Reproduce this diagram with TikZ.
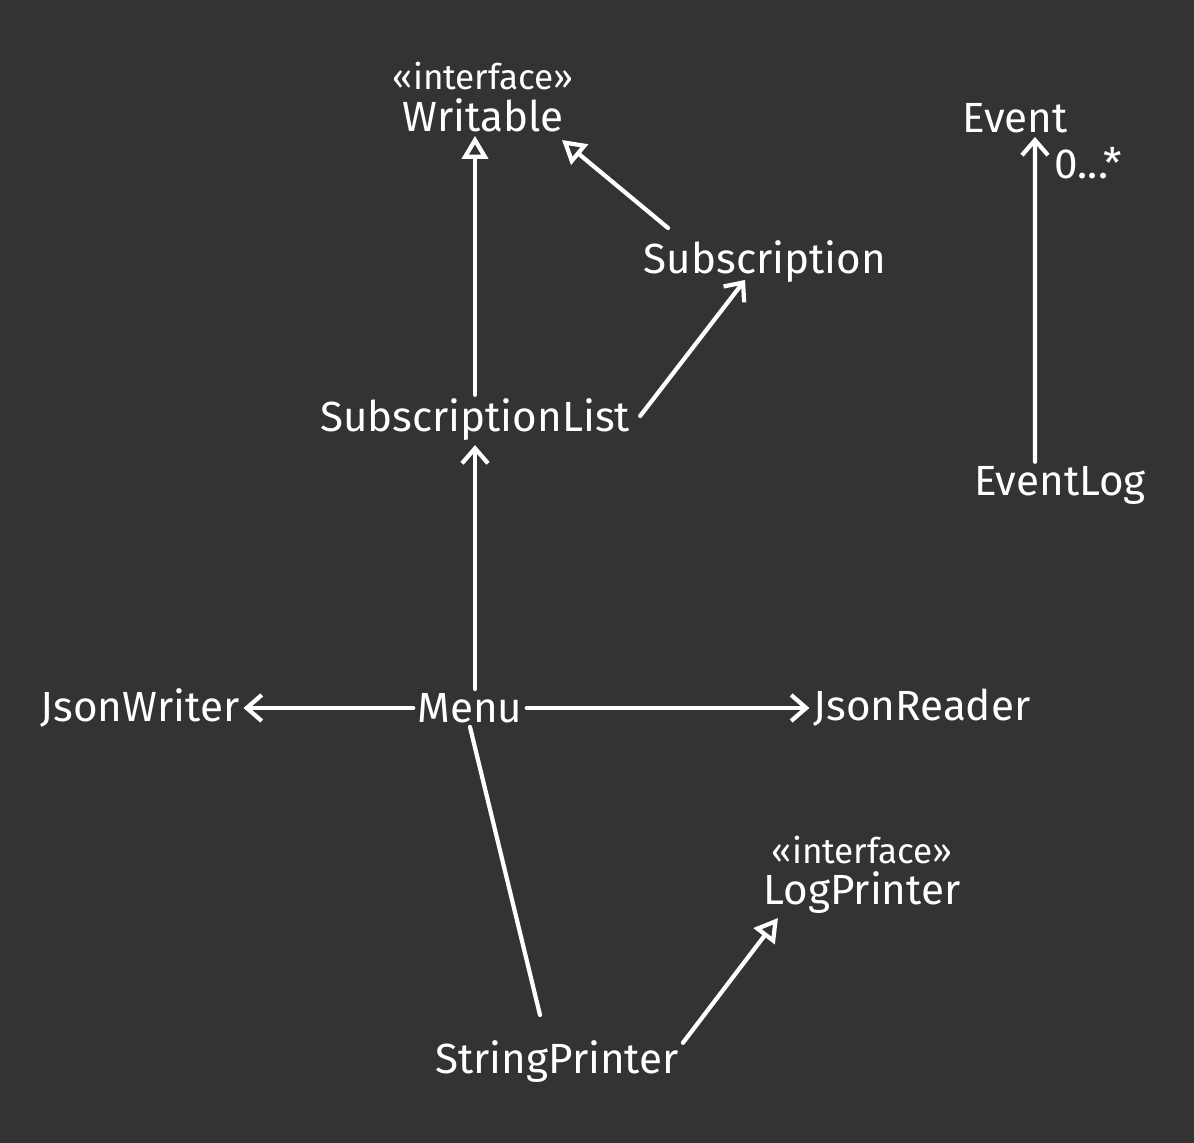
\documentclass[tikz,border=0pt]{standalone}
\usepackage{fontspec}
\setmainfont{Fira Sans}
\usepackage{tikz}
\usetikzlibrary{arrows.meta}
\usetikzlibrary{positioning,calc}
\definecolor{bgdark}{HTML}{333333}

\begin{document}
\begin{tikzpicture}[scale=0.2]
\tikzstyle{every node}+=[inner sep=1pt, text=white, font=\fontsize{12}{14}\selectfont]
\tikzstyle{stereo}=[font=\fontsize{10}{12}\selectfont]
\tikzstyle{link}=[white, line width=1.2pt, line cap=round]
\tikzstyle{assoc}=[link, -{Straight Barb[length=1.5mm,width=2.6mm,line width=1.2pt]}]
\tikzstyle{realize}=[link, -{Triangle[open,length=2.3mm,width=2.6mm,line width=1.2pt]}]
\fill [bgdark] (0,0) rectangle (59.7,-57.15);
\useasboundingbox (0,0) rectangle (59.7,-57.15);
% classes
\node (writable) at (24.15,-5.75) {Writable};
\node [stereo, above=0pt of writable] (writablest) {«interface»};
\node (subscription) at (38.25,-13.1) {Subscription};
\node (sublist) at (23.75,-21) {SubscriptionList};
\node (event) at (50.75,-5.9) {Event};
\node (eventlog) at (53,-24.25) {EventLog};
\node (jsonwriter) at (7,-35.4) {JsonWriter};
\node (menu) at (23.5,-35.4) {Menu};
\node (jsonreader) at (46.1,-35.4) {JsonReader};
\node (logprinter) at (43.1,-44.65) {LogPrinter};
\node [stereo, above=0pt of logprinter] (logprinterst) {«interface»};
\node (stringprinter) at (27.85,-53.1) {StringPrinter};
% connectors
\draw [realize] (sublist.north) -- (sublist.north |- writable.south);
\draw [realize] ($(subscription)+(-4.85,1.7)$) -- ($(writable)+(3.95,-1.25)$);
\draw [assoc] ($(sublist.east)+(0.3,0.2)$) -- ($(subscription)+(-1,-0.9)$);
\draw [assoc] (menu.north -| sublist.south) -- (sublist.south);
\draw [assoc] (menu.west) -- (jsonwriter.east);
\draw [assoc] (menu.east) -- (jsonreader.west);
\draw [link] ($(stringprinter)+(-0.85,2.35)$) -- (menu.south);
\draw [realize] ($(stringprinter.north east)+(0,-0.3)$) -- ($(logprinter)+(-4.2,-1.25)$);
\draw [assoc] ($(eventlog.north)+(-1.25,0)$) -- ($(event.south)+(1,0)$)
  node [pos=0.92, right=4pt] (mult) {0...*};
\end{tikzpicture}
\end{document}
